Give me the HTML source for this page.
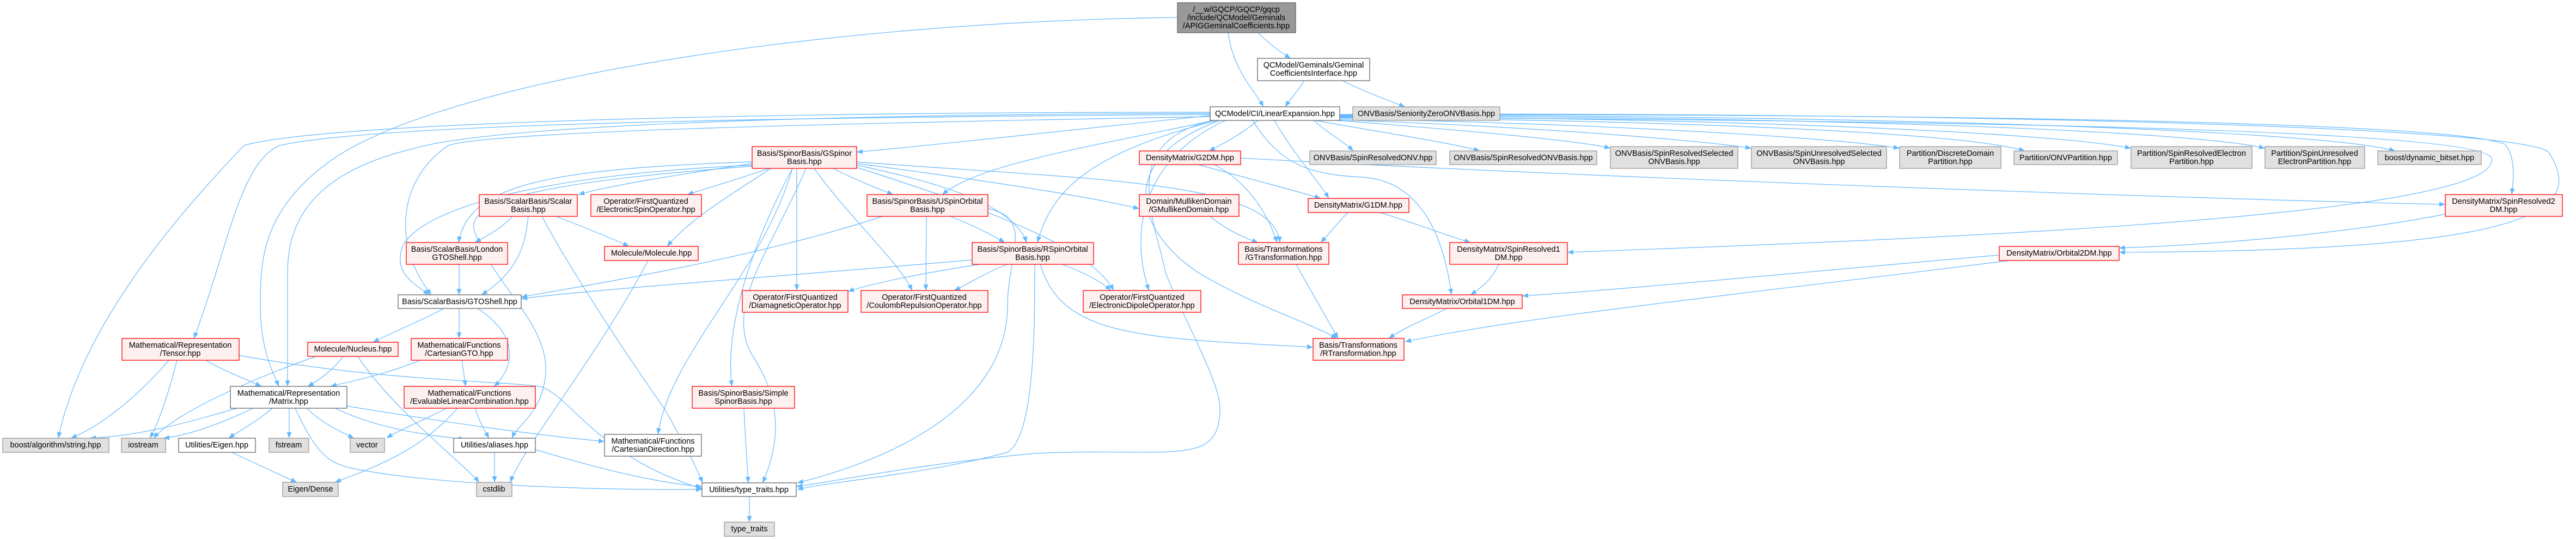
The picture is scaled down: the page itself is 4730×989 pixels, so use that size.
<!DOCTYPE html>
<html><head><meta charset="utf-8"><style>
html,body{margin:0;padding:0;background:#fff;}
svg{display:block;}
.r{fill:#FFF0F0;stroke:#FF0000;stroke-width:1.3}
.w{fill:#fff;stroke:#666;stroke-width:1.3}
.g{fill:#E0E0E0;stroke:#999;stroke-width:1.3}
.d{fill:#999;stroke:#666;stroke-width:1.3}
text{font-family:"Liberation Sans",Helvetica,sans-serif;font-size:14.5px;fill:#000;text-anchor:middle}
.e path{fill:none;stroke:#63B8FF;stroke-width:1.2;marker-end:url(#a)}
</style></head><body>
<svg width="4730" height="989" viewBox="0 0 4730 989" xmlns="http://www.w3.org/2000/svg">
<defs><marker id="a" markerUnits="userSpaceOnUse" markerWidth="12" markerHeight="10" refX="11" refY="4.5" orient="auto"><path d="M0,0 L11,4.5 L0,9 z" fill="#63B8FF"/></marker></defs>
<g class="e">
<path d="M2255,60 C2265,130 2300,160 2320,196"/>
<path d="M2310,60 C2330,80 2350,95 2370,107"/>
<path d="M2162,32 C1500,40 800,150 600,300 C480,390 478,480 478,560 C478,640 500,680 512,709"/>
<path d="M2395,148 C2385,165 2370,180 2360,196"/>
<path d="M2465,148 C2510,170 2550,185 2580,196"/>
<path d="M2222,212 C1950,240 1700,268 1573,279"/>
<path d="M2310,221 C2280,245 2250,262 2220,277"/>
<path d="M2228,221 C2000,270 1800,300 1730,357"/>
<path d="M2235,221 C2000,280 1930,350 1905,445"/>
<path d="M2412,221 C2440,245 2470,262 2485,277"/>
<path d="M2415,221 C2550,245 2680,265 2717,277"/>
<path d="M2455,221 C2700,240 2900,258 2957,272"/>
<path d="M2460,220 C2800,232 3100,255 3216,272"/>
<path d="M2460,218 C2900,226 3350,250 3488,272"/>
<path d="M2460,216 C3000,220 3600,240 3718,277"/>
<path d="M2460,214 C3100,216 3750,240 3913,272"/>
<path d="M2460,213 C3200,213 4000,235 4159,272"/>
<path d="M2460,212 C3300,210 4250,235 4398,277"/>
<path d="M2460,211 C3400,208 4500,220 4600,265 C4620,290 4615,330 4612,357"/>
<path d="M2460,210 C3500,205 4640,230 4680,280 C4760,400 4600,460 3891,463"/>
<path d="M2460,215 C3300,220 4550,230 4575,290 C4600,400 3500,440 2878,463"/>
<path d="M2300,221 C2350,300 2400,320 2500,325 C2600,330 2650,420 2665,541"/>
<path d="M2240,221 C2050,290 2080,420 2200,500 C2300,560 2400,590 2455,621"/>
<path d="M2228,221 C2050,260 2120,400 2140,500 C2180,600 2240,700 2240,750 C2240,860 2150,820 1900,832 C1700,850 1550,880 1462,893"/>
<path d="M2250,221 C2080,300 2080,450 2110,533"/>
<path d="M2222,210 C1500,215 700,225 513,267 C440,300 420,450 356,621"/>
<path d="M2222,206 C1500,205 600,222 448,267 C320,400 150,600 107,804"/>
<path d="M2222,214 C1600,225 900,240 823,267 C730,330 720,450 792,541"/>
<path d="M2222,208 C1500,210 900,230 758,273 C560,320 528,420 528,500 C528,600 528,680 528,709"/>
<path d="M2340,221 C2380,290 2420,330 2440,364"/>
<path d="M2200,302 C2300,330 2380,350 2425,364"/>
<path d="M2278,290 C3000,330 4200,370 4490,375"/>
<path d="M2230,302 C2300,340 2330,400 2345,445"/>
<path d="M2222,397 C2250,420 2280,435 2310,445"/>
<path d="M1573,297 C2000,330 2340,330 2350,445"/>
<path d="M2475,390 C2455,410 2440,430 2425,445"/>
<path d="M2534,390 C2600,410 2650,430 2700,445"/>
<path d="M2752,485 C2740,510 2725,525 2700,541"/>
<path d="M3671,468 C3300,500 3000,530 2795,543"/>
<path d="M3690,478 C3200,540 2800,580 2580,627"/>
<path d="M4490,393 C4300,430 4050,450 3891,455"/>
<path d="M2657,566 C2620,585 2580,600 2550,621"/>
<path d="M2380,485 C2410,540 2440,590 2457,621"/>
<path d="M1910,485 C1950,620 2100,620 2411,637"/>
<path d="M1381,300 C1250,320 1120,340 1062,357"/>
<path d="M1413,309 C1350,330 1300,345 1262,357"/>
<path d="M1416,309 C1320,370 1260,410 1225,452"/>
<path d="M1530,309 C1570,330 1610,345 1640,357"/>
<path d="M1573,300 C1800,330 2000,360 2092,383"/>
<path d="M1573,303 C1700,330 1860,370 1885,445"/>
<path d="M1381,303 C1000,320 780,380 740,450 C720,500 760,520 788,541"/>
<path d="M1381,305 C1050,330 860,360 870,420 C900,520 1020,600 1000,700 C990,760 950,780 940,804"/>
<path d="M1381,297 C1000,310 860,340 842,445"/>
<path d="M1463,309 L1463,533"/>
<path d="M1495,309 C1560,400 1650,480 1675,533"/>
<path d="M1573,307 C1800,380 2000,450 2045,533"/>
<path d="M1455,309 C1380,450 1330,600 1344,709"/>
<path d="M1480,309 C1420,450 1330,560 1380,650 C1440,740 1430,820 1400,886"/>
<path d="M1455,309 C1400,500 1230,650 1208,797"/>
<path d="M1745,397 C1790,415 1820,430 1845,445"/>
<path d="M1701,397 L1700,533"/>
<path d="M1620,397 C1400,470 1100,520 957,545"/>
<path d="M1814,383 C1900,400 1850,470 1850,560 C1850,740 1650,840 1464,886"/>
<path d="M1800,485 C1700,500 1600,520 1557,535"/>
<path d="M1850,485 C1810,500 1780,520 1752,533"/>
<path d="M1950,485 C1990,500 2020,515 2040,533"/>
<path d="M1785,477 C1400,510 1100,530 957,548"/>
<path d="M1900,485 C1900,600 1900,800 1850,830 C1700,870 1550,880 1464,898"/>
<path d="M941,397 C920,420 890,435 872,445"/>
<path d="M970,397 C965,450 950,500 884,541"/>
<path d="M1021,397 C1080,420 1130,440 1155,452"/>
<path d="M995,397 C1050,500 1150,650 1220,750 C1260,820 1280,860 1290,886"/>
<path d="M843,485 L843,541"/>
<path d="M1190,478 C1100,650 960,820 937,885"/>
<path d="M815,566 C770,590 720,610 685,628"/>
<path d="M843,566 L843,621"/>
<path d="M877,566 C960,620 940,680 907,709"/>
<path d="M310,661 C260,720 190,780 130,804"/>
<path d="M325,661 C310,720 290,780 275,804"/>
<path d="M378,661 C410,680 450,695 480,709"/>
<path d="M439,652 C700,700 950,700 995,710 C1050,730 1100,840 1290,897"/>
<path d="M580,654 C450,700 320,760 282,804"/>
<path d="M630,654 C610,680 590,695 565,709"/>
<path d="M657,654 C720,750 850,850 880,885"/>
<path d="M772,661 C700,690 640,700 607,709"/>
<path d="M848,661 L855,709"/>
<path d="M820,749 C760,780 730,790 710,804"/>
<path d="M840,749 C770,830 680,860 615,885"/>
<path d="M873,749 C880,775 890,790 898,804"/>
<path d="M435,749 C330,780 250,800 165,804"/>
<path d="M465,749 C400,780 340,800 300,804"/>
<path d="M500,749 C470,775 440,790 420,804"/>
<path d="M531,749 L531,804"/>
<path d="M563,749 C590,775 620,790 650,804"/>
<path d="M615,749 C700,790 800,800 853,806"/>
<path d="M637,745 C850,780 1000,800 1110,810"/>
<path d="M542,749 C580,830 600,850 650,860 C800,890 1100,900 1289,898"/>
<path d="M425,830 C470,850 510,870 545,885"/>
<path d="M908,830 L908,885"/>
<path d="M983,825 C1100,860 1200,885 1289,893"/>
<path d="M1366,749 C1368,800 1372,850 1374,886"/>
<path d="M1376,911 L1376,958"/>
</g>
<g>
<rect class="d" x="2162" y="5" width="217" height="55"/><text x="2270" y="22">/__w/GQCP/GQCP/gqcp</text><text x="2270" y="37">/include/QCModel/Geminals</text><text x="2270" y="52">/APIGGeminalCoefficients.hpp</text>
<rect class="w" x="2309" y="107" width="206" height="41"/><text x="2412" y="124">QCModel/Geminals/Geminal</text><text x="2412" y="139">CoefficientsInterface.hpp</text>
<rect class="w" x="2222" y="196" width="238" height="25"/><text x="2341" y="213">QCModel/CI/LinearExpansion.hpp</text>
<rect class="g" x="2484" y="196" width="270" height="25"/><text x="2619" y="213">ONVBasis/SeniorityZeroONVBasis.hpp</text>
<rect class="r" x="1381" y="269" width="192" height="40"/><text x="1477" y="286">Basis/SpinorBasis/GSpinor</text><text x="1477" y="301">Basis.hpp</text>
<rect class="r" x="2092" y="277" width="186" height="25"/><text x="2185" y="294">DensityMatrix/G2DM.hpp</text>
<rect class="g" x="2405" y="277" width="232" height="25"/><text x="2521" y="294">ONVBasis/SpinResolvedONV.hpp</text>
<rect class="g" x="2662" y="277" width="270" height="25"/><text x="2797" y="294">ONVBasis/SpinResolvedONVBasis.hpp</text>
<rect class="g" x="2957" y="269" width="234" height="40"/><text x="3074" y="286">ONVBasis/SpinResolvedSelected</text><text x="3074" y="301">ONVBasis.hpp</text>
<rect class="g" x="3216" y="269" width="248" height="40"/><text x="3340" y="286">ONVBasis/SpinUnresolvedSelected</text><text x="3340" y="301">ONVBasis.hpp</text>
<rect class="g" x="3488" y="269" width="186" height="40"/><text x="3581" y="286">Partition/DiscreteDomain</text><text x="3581" y="301">Partition.hpp</text>
<rect class="g" x="3698" y="277" width="190" height="25"/><text x="3793" y="294">Partition/ONVPartition.hpp</text>
<rect class="g" x="3913" y="269" width="222" height="40"/><text x="4024" y="286">Partition/SpinResolvedElectron</text><text x="4024" y="301">Partition.hpp</text>
<rect class="g" x="4159" y="269" width="183" height="40"/><text x="4250" y="286">Partition/SpinUnresolved</text><text x="4250" y="301">ElectronPartition.hpp</text>
<rect class="g" x="4366" y="277" width="190" height="25"/><text x="4461" y="294">boost/dynamic_bitset.hpp</text>
<rect class="r" x="880" y="357" width="180" height="40"/><text x="970" y="374">Basis/ScalarBasis/Scalar</text><text x="970" y="389">Basis.hpp</text>
<rect class="r" x="1085" y="357" width="203" height="40"/><text x="1186" y="374">Operator/FirstQuantized</text><text x="1186" y="389">/ElectronicSpinOperator.hpp</text>
<rect class="r" x="1592" y="357" width="222" height="40"/><text x="1703" y="374">Basis/SpinorBasis/USpinOrbital</text><text x="1703" y="389">Basis.hpp</text>
<rect class="r" x="2092" y="357" width="183" height="40"/><text x="2183" y="374">Domain/MullikenDomain</text><text x="2183" y="389">/GMullikenDomain.hpp</text>
<rect class="r" x="2402" y="364" width="185" height="26"/><text x="2494" y="381">DensityMatrix/G1DM.hpp</text>
<rect class="r" x="4490" y="357" width="215" height="40"/><text x="4597" y="374">DensityMatrix/SpinResolved2</text><text x="4597" y="389">DM.hpp</text>
<rect class="r" x="746" y="445" width="186" height="40"/><text x="839" y="462">Basis/ScalarBasis/London</text><text x="839" y="477">GTOShell.hpp</text>
<rect class="r" x="1110" y="452" width="172" height="26"/><text x="1196" y="469">Molecule/Molecule.hpp</text>
<rect class="r" x="1785" y="445" width="223" height="40"/><text x="1896" y="462">Basis/SpinorBasis/RSpinOrbital</text><text x="1896" y="477">Basis.hpp</text>
<rect class="r" x="2274" y="445" width="166" height="40"/><text x="2357" y="462">Basis/Transformations</text><text x="2357" y="477">/GTransformation.hpp</text>
<rect class="r" x="2662" y="445" width="216" height="40"/><text x="2770" y="462">DensityMatrix/SpinResolved1</text><text x="2770" y="477">DM.hpp</text>
<rect class="r" x="3671" y="452" width="220" height="26"/><text x="3781" y="469">DensityMatrix/Orbital2DM.hpp</text>
<rect class="w" x="731" y="541" width="226" height="25"/><text x="844" y="558">Basis/ScalarBasis/GTOShell.hpp</text>
<rect class="r" x="1363" y="533" width="194" height="40"/><text x="1460" y="550">Operator/FirstQuantized</text><text x="1460" y="565">/DiamagneticOperator.hpp</text>
<rect class="r" x="1581" y="533" width="233" height="40"/><text x="1697" y="550">Operator/FirstQuantized</text><text x="1697" y="565">/CoulombRepulsionOperator.hpp</text>
<rect class="r" x="1989" y="533" width="216" height="40"/><text x="2097" y="550">Operator/FirstQuantized</text><text x="2097" y="565">/ElectronicDipoleOperator.hpp</text>
<rect class="r" x="2575" y="541" width="220" height="25"/><text x="2685" y="558">DensityMatrix/Orbital1DM.hpp</text>
<rect class="r" x="224" y="621" width="215" height="40"/><text x="331" y="638">Mathematical/Representation</text><text x="331" y="653">/Tensor.hpp</text>
<rect class="r" x="565" y="628" width="166" height="26"/><text x="648" y="645">Molecule/Nucleus.hpp</text>
<rect class="r" x="755" y="621" width="177" height="40"/><text x="843" y="638">Mathematical/Functions</text><text x="843" y="653">/CartesianGTO.hpp</text>
<rect class="r" x="2411" y="621" width="167" height="40"/><text x="2494" y="638">Basis/Transformations</text><text x="2494" y="653">/RTransformation.hpp</text>
<rect class="w" x="423" y="709" width="214" height="40"/><text x="530" y="726">Mathematical/Representation</text><text x="530" y="741">/Matrix.hpp</text>
<rect class="r" x="742" y="709" width="241" height="40"/><text x="862" y="726">Mathematical/Functions</text><text x="862" y="741">/EvaluableLinearCombination.hpp</text>
<rect class="r" x="1271" y="709" width="188" height="40"/><text x="1365" y="726">Basis/SpinorBasis/Simple</text><text x="1365" y="741">SpinorBasis.hpp</text>
<rect class="g" x="5" y="804" width="195" height="26"/><text x="102" y="821">boost/algorithm/string.hpp</text>
<rect class="g" x="223" y="804" width="81" height="26"/><text x="263" y="821">iostream</text>
<rect class="w" x="328" y="804" width="141" height="26"/><text x="398" y="821">Utilities/Eigen.hpp</text>
<rect class="g" x="494" y="804" width="73" height="26"/><text x="530" y="821">fstream</text>
<rect class="g" x="643" y="804" width="63" height="26"/><text x="674" y="821">vector</text>
<rect class="w" x="833" y="804" width="150" height="26"/><text x="908" y="821">Utilities/aliases.hpp</text>
<rect class="w" x="1110" y="797" width="178" height="40"/><text x="1199" y="814">Mathematical/Functions</text><text x="1199" y="829">/CartesianDirection.hpp</text>
<rect class="g" x="519" y="885" width="102" height="26"/><text x="570" y="902">Eigen/Dense</text>
<rect class="g" x="875" y="885" width="65" height="26"/><text x="907" y="902">cstdlib</text>
<rect class="w" x="1289" y="886" width="173" height="25"/><text x="1375" y="903">Utilities/type_traits.hpp</text>
<rect class="g" x="1330" y="958" width="92" height="26"/><text x="1376" y="975">type_traits</text>
</g>
</svg>
</body></html>
